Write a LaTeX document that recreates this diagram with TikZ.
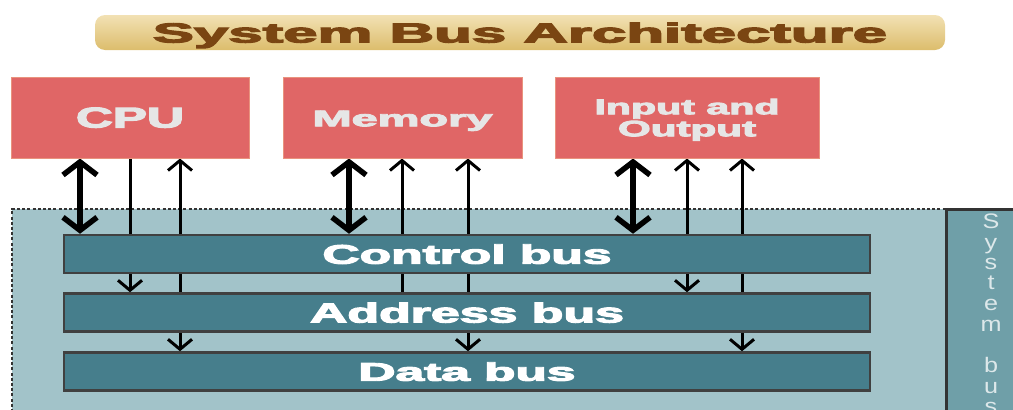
\documentclass[tikz,border=0pt]{standalone}
\usepackage{fontspec}
\setmainfont{Liberation Sans}
\usetikzlibrary{arrows.meta}
\pgfdeclarelayer{back}
\pgfdeclarelayer{mid}
\pgfsetlayers{back,mid,main}
\newcommand\heavytxt[2][0.35]{\special{pdf:literal direct 2 Tr #1 w}#2\special{pdf:literal direct 0 Tr}}
\definecolor{titletop}{HTML}{F2E1B4}
\definecolor{titlebot}{HTML}{DCBD6C}
\definecolor{titletext}{HTML}{7A4512}
\definecolor{unitred}{HTML}{E06666}
\definecolor{unitborder}{HTML}{E9937E}
\definecolor{unittext}{HTML}{E6E6E6}
\definecolor{areafill}{HTML}{A2C3C9}
\definecolor{busfill}{HTML}{467E8C}
\definecolor{busborder}{HTML}{404040}
\definecolor{panelfill}{HTML}{6F9FA8}
\definecolor{paneltext}{HTML}{DDE8EA}
\definecolor{edgegray}{HTML}{333333}
\begin{document}
\begin{tikzpicture}[x=1pt,y=-1pt,
  titlebox/.style={rounded corners=10pt, top color=titletop, bottom color=titlebot,
    minimum width=850pt, minimum height=35pt, inner sep=0pt, text=titletext,
    font=\bfseries, text depth=0pt},
  unitbox/.style={draw=unitborder, line width=1pt, fill=unitred, inner sep=0pt,
    minimum height=81pt, text=unittext, font=\bfseries, text depth=0pt, align=center},
  busbox/.style={draw=busborder, line width=2.5pt, fill=busfill, inner sep=0pt,
    minimum width=806pt, minimum height=38pt, text=white, font=\bfseries, text depth=0pt},
  thickarr/.style={line width=5.5pt, {Straight Barb[length=13pt,width=34pt]}-{Straight Barb[length=13pt,width=34pt]}},
  thinboth/.style={line width=3pt, {Straight Barb[length=10pt,width=24pt]}-{Straight Barb[length=10pt,width=24pt]}},
  thinup/.style={line width=3pt, {Straight Barb[length=10pt,width=24pt]}-},
  thindown/.style={line width=3pt, -{Straight Barb[length=10pt,width=24pt]}},
  sbletter/.style={inner sep=0pt, anchor=base, text=paneltext, font=\fontsize{21}{21}\selectfont}
]
\useasboundingbox (0,0) rectangle (1013,410);

% background area and system bus panel
\begin{pgfonlayer}{back}
  \fill[areafill] (12,209) rectangle (946,412);
  \draw[edgegray, line width=1.6pt, dash pattern=on 3pt off 2.2pt] (12,412) -- (12,209) -- (946,209);
  \fill[panelfill] (946,209) rectangle (1015,412);
  \draw[edgegray, line width=3pt] (946,412) -- (946,209) -- (1015,209);
\end{pgfonlayer}

% title
\node[titlebox] (title) at (520,32.5) {\resizebox{734pt}{20pt}{\heavytxt{System Bus Architecture}}};

% units
\node[unitbox, minimum width=238pt] (cpu) at (130,117.5) {\resizebox{108pt}{20pt}{\heavytxt{CPU}}};
\node[unitbox, minimum width=239pt] (mem) at (402.5,117.5) {\raisebox{-2pt}{\resizebox{180pt}{15.5pt}{\heavytxt{Memory}}}};
\node[unitbox, minimum width=264pt, font=\bfseries\fontsize{10}{23}\selectfont] (io) at (687,117.5)
  {\raisebox{-1pt}{\resizebox{185pt}{15.5pt}{\heavytxt{Input and}}}\\\resizebox{138pt}{15.5pt}{\heavytxt{Output}}};

% buses
\node[busbox] (ctrl) at (467,254) {\resizebox{289pt}{19.5pt}{\heavytxt{Control bus}}};
\node[busbox] (addr) at (467,312.5) {\resizebox{314pt}{20pt}{\heavytxt{Address bus}}};
\node[busbox] (data) at (467,371.5) {\resizebox{217pt}{18.5pt}{\heavytxt{Data bus}}};

% connector columns
\coordinate (x1) at (80,0);
\coordinate (x2) at (130,0);
\coordinate (x3) at (180,0);
\coordinate (x4) at (349,0);
\coordinate (x5) at (402,0);
\coordinate (x6) at (468,0);
\coordinate (x7) at (633,0);
\coordinate (x8) at (687,0);
\coordinate (x9) at (742,0);

\begin{pgfonlayer}{mid}
  \draw[thickarr] (cpu.south -| x1) -- (ctrl.north -| x1);
  \draw[thindown] (cpu.south -| x2) -- (addr.north -| x2);
  \draw[thinboth] (cpu.south -| x3) -- (data.north -| x3);
  \draw[thickarr] (mem.south -| x4) -- (ctrl.north -| x4);
  \draw[thinup]   (mem.south -| x5) -- (addr.north -| x5);
  \draw[thinboth] (mem.south -| x6) -- (data.north -| x6);
  \draw[thickarr] (io.south -| x7) -- (ctrl.north -| x7);
  \draw[thinboth] (io.south -| x8) -- (addr.north -| x8);
  \draw[thinboth] (io.south -| x9) -- (data.north -| x9);
\end{pgfonlayer}

% vertical "System bus" label
\foreach \ch/\yb [count=\k] in {S/228, y/249, s/269, t/289, e/310, m/331, b/372, u/393, s/413}
  \node[sbletter] (sb\k) at (991,\yb) {\scalebox{1.2}[1]{\ch}};
\end{tikzpicture}
\end{document}
